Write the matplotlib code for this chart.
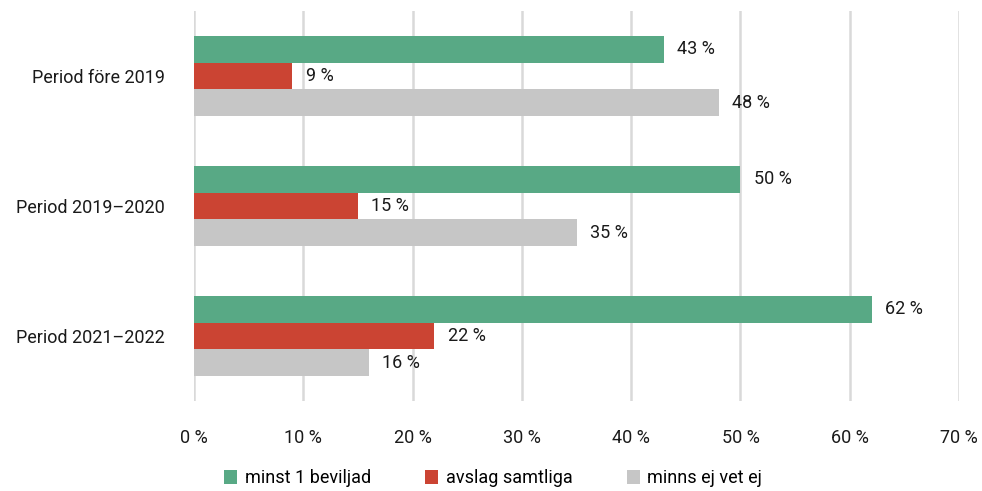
import matplotlib
matplotlib.use("Agg")
import matplotlib.pyplot as plt
import numpy as np
from matplotlib.patches import Patch

plt.rcParams["font.family"] = ["Roboto", "DejaVu Sans"]

categories = ["Period före 2019", "Period 2019–2020", "Period 2021–2022"]
series_names = ["minst 1 beviljad", "avslag samtliga", "minns ej vet ej"]
minst_1_beviljad = [43, 50, 62]
avslag_samtliga = [9, 15, 22]
minns_ej_vet_ej = [48, 35, 16]
x_ticks = [0, 10, 20, 30, 40, 50, 60, 70]

colors = ["#58a985", "#cb4433", "#c6c6c6"]
series = [minst_1_beviljad, avslag_samtliga, minns_ej_vet_ej]
fs = 13

fig = plt.figure(figsize=(9.82, 4.91), dpi=100)
ax = fig.add_axes([0.1976, 0.1833, 0.7790, 0.7943])

bar_h = 0.207
y = np.arange(len(categories))
for i, (vals, col) in enumerate(zip(series, colors)):
    pos = y + (i - 1) * bar_h
    ax.barh(pos, vals, height=bar_h, color=col, zorder=3)
    for p, v in zip(pos, vals):
        ax.text(v + 1.2, p, f"{v} %", va="center", ha="left", fontsize=fs, color="#1a1a1a")

ax.set_xlim(0, 70)
ax.set_ylim(2.5, -0.5)
ax.set_yticks(y)
ax.set_yticklabels(categories, fontsize=fs, color="#1a1a1a")
ax.set_xticks(x_ticks)
ax.set_xticklabels([f"{t} %" for t in x_ticks], fontsize=fs, color="#1a1a1a")
ax.tick_params(length=0)
ax.tick_params(axis="y", pad=21)
ax.tick_params(axis="x", pad=20)
for s in ax.spines.values():
    s.set_visible(False)
ax.xaxis.grid(True, color="#d9d9d9", linewidth=1.8, zorder=0)
ax.set_axisbelow(True)

handles = [Patch(facecolor=c, edgecolor="none") for c in colors]
fig.legend(handles, series_names, loc="center", bbox_to_anchor=(0.502, 0.026),
           ncol=3, frameon=False, fontsize=fs, handlelength=0.75, handleheight=0.75,
           handletextpad=0.4, columnspacing=3.0)

fig.savefig("out.png", dpi=100)
